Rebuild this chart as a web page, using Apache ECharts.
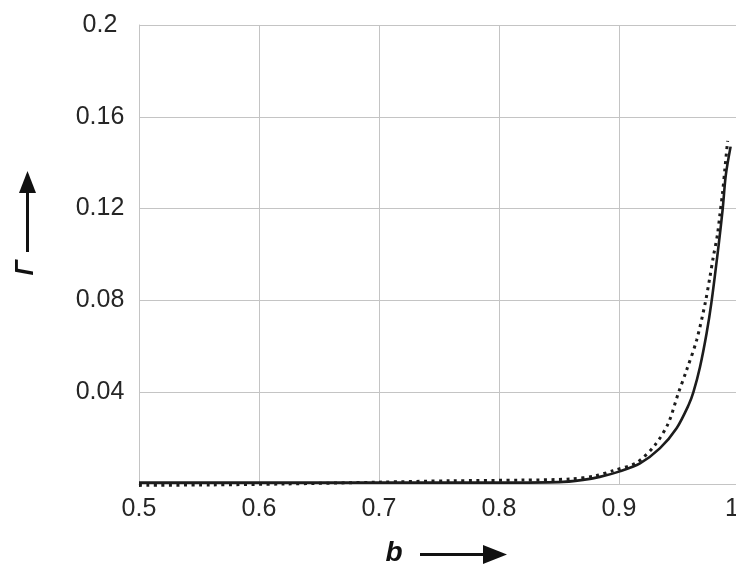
<!DOCTYPE html>
<html>
<head>
<meta charset="utf-8">
<script src="https://cdn.jsdelivr.net/npm/echarts@6/dist/echarts.min.js"></script>
<style>
  html, body { margin: 0; padding: 0; background: #fff; }
  #chart { width: 736px; height: 565px; }
</style>
</head>
<body>
<div id="chart"></div>
<script>
// Γ as a function of b: computed curve (solid) and approximation (dotted)
const solidB = [0.5, 0.6, 0.7, 0.8, 0.85, 0.87, 0.884, 0.9, 0.9175, 0.934, 0.948, 0.958, 0.962,
                0.9675, 0.973, 0.977, 0.983, 0.9864, 0.989, 0.993];
const solidG = [0.0006, 0.0006, 0.0006, 0.0006, 0.0008, 0.0018, 0.0031, 0.0054, 0.009, 0.0155, 0.0243, 0.0344, 0.040,
                0.051, 0.0657, 0.079, 0.104, 0.1198, 0.1346, 0.147];

const dotB = [0.5, 0.56, 0.62, 0.7, 0.76, 0.82, 0.86, 0.88, 0.895, 0.9147, 0.930, 0.941, 0.9494, 0.9564,
              0.9647, 0.9717, 0.9758, 0.9786, 0.982, 0.984, 0.9864, 0.9883, 0.9905];
const dotG = [-0.0006, -0.0004, 0.0, 0.0008, 0.0014, 0.0017, 0.0022, 0.0035, 0.0058, 0.0093, 0.017, 0.0264, 0.0395, 0.0497,
              0.0627, 0.0785, 0.0903, 0.099, 0.1085, 0.117, 0.1274, 0.1376, 0.1495];

const xTicks = { min: 0.5, max: 1.0, step: 0.1 };
const yTicks = { min: 0, max: 0.2, step: 0.04 };

const pair = (xs, ys) => xs.map((x, i) => [x, ys[i]]);

const chart = echarts.init(document.getElementById('chart'), null, { renderer: 'canvas' });
const gridColor = '#c4c4c4';
const textColor = '#262626';
const lineColor = '#1c1c1c';

chart.setOption({
  animation: false,
  backgroundColor: '#ffffff',
  grid: { left: 139, top: 25, width: 600, height: 459, containLabel: false, outerBoundsMode: 'none' },
  xAxis: {
    type: 'value',
    min: xTicks.min, max: xTicks.max, interval: xTicks.step,
    axisLine: { show: true, lineStyle: { color: gridColor, width: 1 } },
    axisTick: { show: false },
    splitLine: { show: true, lineStyle: { color: gridColor, width: 1 } },
    axisLabel: {
      margin: 13,
      color: textColor,
      fontFamily: 'Liberation Sans, Arial, sans-serif',
      fontSize: 25,
      alignMaxLabel: 'right',
      formatter: v => (Math.abs(v - 1) < 1e-9 ? '1' : v.toFixed(1))
    }
  },
  yAxis: {
    type: 'value',
    min: yTicks.min, max: yTicks.max, interval: yTicks.step,
    axisLine: { show: true, lineStyle: { color: gridColor, width: 1 } },
    axisTick: { show: false },
    splitLine: { show: true, lineStyle: { color: gridColor, width: 1 } },
    axisLabel: {
      margin: 39,
      align: 'center',
      color: textColor,
      fontFamily: 'Liberation Sans, Arial, sans-serif',
      fontSize: 25,
      formatter: v => (v < 1e-9 ? '' : String(+v.toFixed(2)))
    }
  },
  series: [
    {
      type: 'line',
      data: pair(solidB, solidG),
      smooth: 0.3,
      showSymbol: false,
      clip: false,
      lineStyle: { color: lineColor, width: 2.6 },
      z: 3
    },
    {
      type: 'line',
      data: pair(dotB, dotG),
      smooth: 0.3,
      showSymbol: false,
      clip: false,
      lineStyle: { color: lineColor, width: 3, type: [3, 4.5], cap: 'butt' },
      z: 2
    }
  ],
  graphic: [
    // vertical axis title with upward arrow
    { type: 'line', shape: { x1: 27.5, y1: 252, x2: 27.5, y2: 190 }, style: { stroke: '#111', lineWidth: 3 } },
    { type: 'polygon', shape: { points: [[19, 193], [36, 193], [27.5, 171]] }, style: { fill: '#111' } },
    {
      type: 'text', x: 26, y: 268, rotation: Math.PI / 2,
      style: {
        text: 'Γ', fill: '#111', align: 'center', verticalAlign: 'middle',
        font: 'italic bold 25px "Liberation Sans", Arial, sans-serif'
      }
    },
    // horizontal axis title with rightward arrow
    {
      type: 'text', x: 394, y: 553,
      style: {
        text: 'b', fill: '#111', align: 'center', verticalAlign: 'middle',
        font: 'italic bold 28px "Liberation Sans", Arial, sans-serif'
      }
    },
    { type: 'line', shape: { x1: 420, y1: 554.5, x2: 486, y2: 554.5 }, style: { stroke: '#111', lineWidth: 3 } },
    { type: 'polygon', shape: { points: [[483, 545], [483, 564], [507, 554.5]] }, style: { fill: '#111' } }
  ]
});
</script>
</body>
</html>
